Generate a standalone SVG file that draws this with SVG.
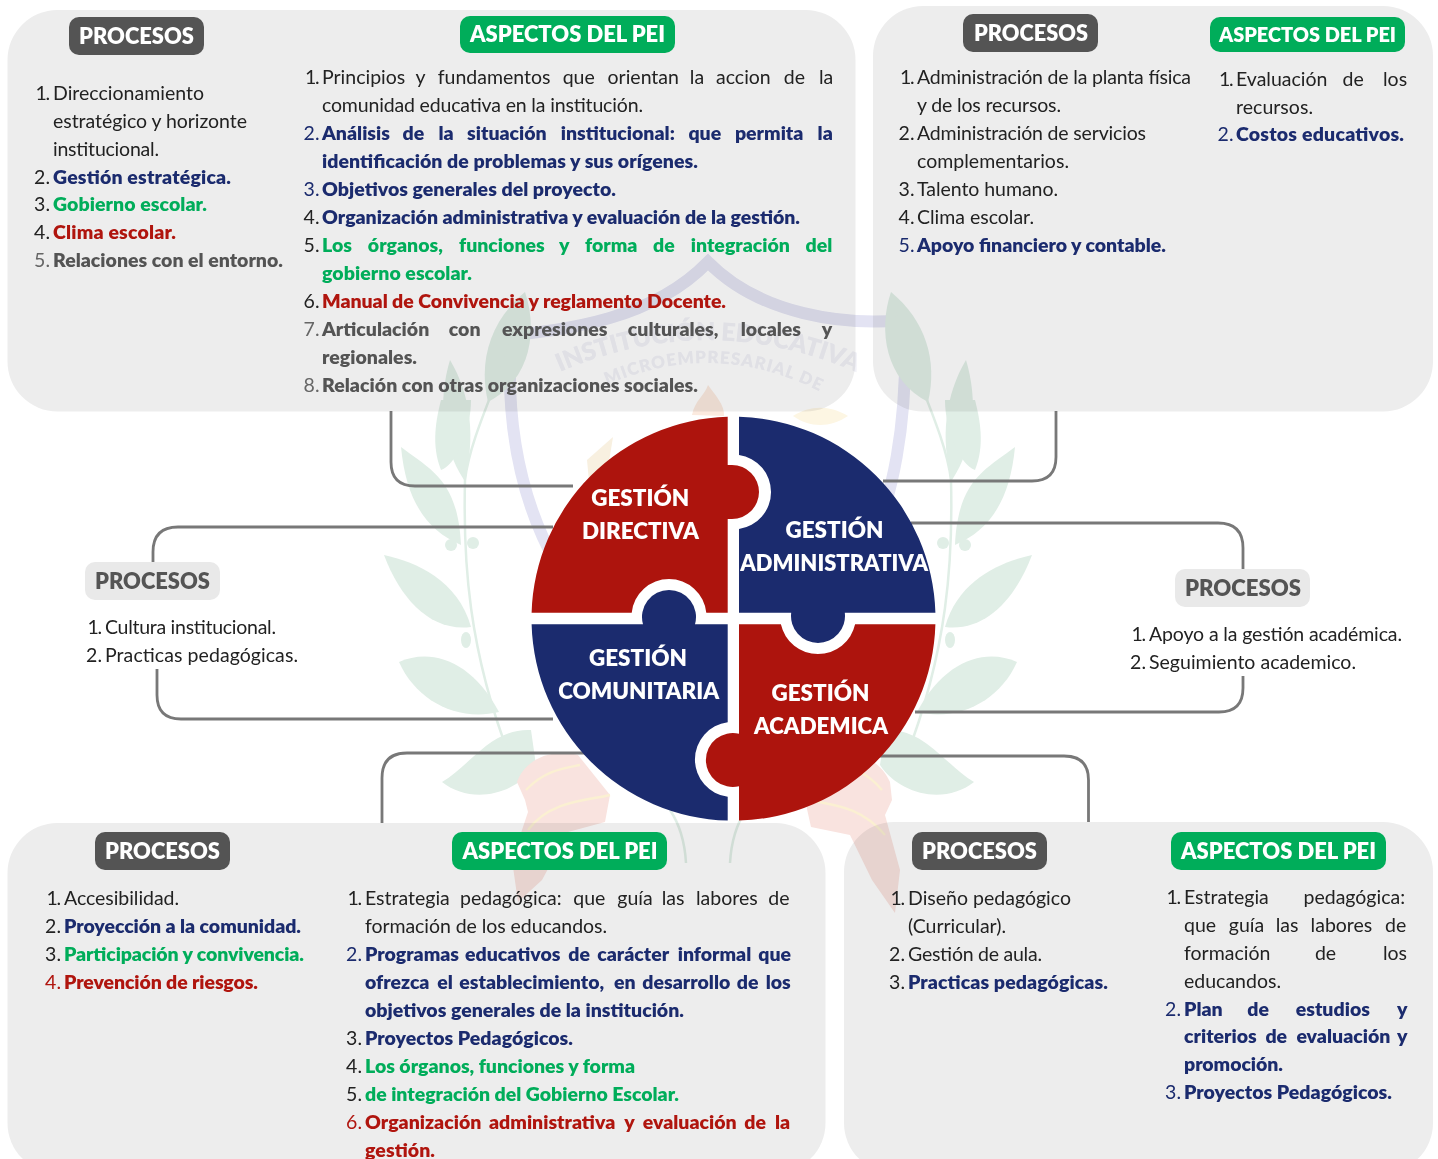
<svg xmlns="http://www.w3.org/2000/svg" width="1438" height="1159" viewBox="0 0 1438 1159">
<defs>
<style>
text{font-family:"Lato","Liberation Sans",sans-serif;font-size:19.5px;fill:#222}
.n{text-anchor:end;font-weight:400}
.nv{fill:#1b2b6e}.ng{fill:#666}.nr{fill:#b0150e}
.b{fill:#1b2b6e;font-weight:800}.g{fill:#00ad5a;font-weight:800}.d{fill:#b0150e;font-weight:800}.k{fill:#545454;font-weight:800}
.panel{fill:#ededed;mix-blend-mode:multiply}
.bp{fill:#545454}.ba{fill:#00ad5a}.bl{fill:#e9e9e9}
.lbl{font-size:22px;font-weight:800;fill:#fff;text-anchor:middle}
.lbk{fill:#545454}
.cap{font-size:23px;font-weight:800;fill:#fff;text-anchor:middle}
.red{fill:#ad140d}.navy{fill:#1b2b6e}
.conn{fill:none;stroke:#787878;stroke-width:2.8}
.leaf{fill:#e0eee6}
.rib{fill:#f9e3df}
.wm{font-weight:800;fill:#f1f1f7}
</style>
<g id="leaves-right">
<path class="leaf" d="M891,292C878,330 885,380 928,402C938,360 925,320 891,292Z"/>
<path class="leaf" d="M966,360C945,395 940,440 952,480C975,445 978,400 966,360Z"/>
<path class="leaf" d="M945,400C945,430 960,465 975,470C985,445 980,420 975,400Z"/>
<path class="leaf" d="M1015,447C985,470 958,480 955,545C990,530 1010,500 1015,447Z"/>
<path class="leaf" d="M1032,555C1000,562 958,580 945,627C985,632 1015,600 1032,555Z"/>
<path class="leaf" d="M1017,662C985,648 945,660 917,712C960,722 1000,700 1017,662Z"/>
<path class="leaf" d="M974,782C945,765 925,728 885,730L880,765C900,795 945,805 974,782Z"/>
<path d="M892,300C910,370 945,430 951,480C953,560 948,650 905,760" fill="none" stroke="#e0eee6" stroke-width="2.500"/>
<circle class="leaf" cx="943" cy="543" r="6"/><circle class="leaf" cx="965" cy="545" r="6"/><ellipse class="leaf" cx="950" cy="640" rx="5" ry="8"/>
<path d="M670,810C680,825 685,845 686,863" fill="none" stroke="#e0eee6" stroke-width="2.500"/>
</g>
</defs>
<rect width="1438" height="1159" fill="#fff"/>
<g id="crest">
<path d="M505,336C560,330 650,322 708,262C760,315 845,326 905,320C908,420 895,500 860,570M511,330C505,420 520,500 557,565" fill="none" stroke="#e3e3f3" stroke-width="12"/>
<use href="#leaves-right"/>
<use href="#leaves-right" transform="matrix(-1 0 0 1 1416 0)"/>
<path d="M692,415C695,400 705,395 708,385C715,395 725,405 724,416Z" fill="#fbeadf"/>
<path d="M793,416C810,405 830,405 848,416C830,428 810,428 793,416Z" fill="#fdf6e3"/>
<path d="M587,460L613,437L606,480L590,492Z" fill="#f8f0e0"/>
<path class="rib" d="M517,782C525,760 550,748 578,755L610,795L605,822L568,832L542,880L518,902L512,860L528,812L525,800Z"/>
<path class="rib" d="M890,782C880,760 860,752 838,756L805,800L811,827L850,835L872,880L895,913L900,870L885,815L892,800Z"/>
<path d="M526,790C545,770 565,768 580,765M528,830C550,800 590,800 610,795" fill="none" stroke="#fbf0d2" stroke-width="2.500"/>
<path d="M882,790C865,770 850,768 835,765M885,835C860,805 830,805 810,800" fill="none" stroke="#fbf0d2" stroke-width="2.500"/>
<path id="arc1" d="M560,372Q708,308 858,373" fill="none"/>
<path id="arc2" d="M607,385Q715,338 821,392" fill="none"/>
<text class="wm" style="font-size:25px"><textPath href="#arc1" textLength="305">INSTITUCIÓN EDUCATIVA</textPath></text>
<text class="wm" style="font-size:17px"><textPath href="#arc2" textLength="220">MICROEMPRESARIAL DE</textPath></text>
</g>
<g id="connectors">
<path class="conn" d="M391,411V462Q391,486 415,486H573"/>
<path class="conn" d="M553,527H178Q153,527 153,552V567"/>
<path class="conn" d="M157,669V695Q157,719 181,719H553"/>
<path class="conn" d="M1056,411V457Q1056,481 1032,481H883"/>
<path class="conn" d="M911,523H1218Q1243,523 1243,548V575"/>
<path class="conn" d="M1243,676V688Q1243,712 1219,712H915"/>
<path class="conn" d="M382,823V778Q382,753 407,753H600"/>
<path class="conn" d="M1088.5,822V780Q1088.5,756 1064,756H860"/>
</g>
<g id="panel-directiva">
<rect class="panel" x="7.500" y="10" width="848" height="401.500" rx="50"/>
<rect class="bp" x="69" y="17" width="135" height="38" rx="10"/><text class="lbl" x="136.500" y="43.500" textLength="115" lengthAdjust="spacingAndGlyphs">PROCESOS</text>
<rect class="ba" x="460" y="16" width="215" height="37" rx="10"/><text class="lbl" x="567.500" y="42" textLength="195" lengthAdjust="spacingAndGlyphs">ASPECTOS DEL PEI</text>
<text class="n" x="50" y="99.700"><tspan>1</tspan><tspan dx="-1.500">.</tspan></text><text x="53" y="99.700" textLength="151">Direccionamiento</text>
<text x="53" y="127.700" textLength="194">estratégico y horizonte</text>
<text x="53" y="155.700" textLength="106">institucional.</text>
<text class="n" x="50" y="183.500">2.</text><text class="b" x="53" y="183.500" textLength="178">Gestión estratégica.</text>
<text class="n" x="50" y="211">3.</text><text class="g" x="53" y="211" textLength="154">Gobierno escolar.</text>
<text class="n" x="50" y="239">4.</text><text class="d" x="53" y="239" textLength="123">Clima escolar.</text>
<text class="n ng" x="50" y="267">5.</text><text class="k" x="53" y="267" textLength="230">Relaciones con el entorno.</text>
<text class="n" x="319.500" y="83.900"><tspan>1</tspan><tspan dx="-1.500">.</tspan></text><text y="83.900"><tspan x="322">Principios</tspan><tspan x="415.400">y</tspan><tspan x="437.700">fundamentos</tspan><tspan x="562.700">que</tspan><tspan x="607.500">orientan</tspan><tspan x="689.800">la</tspan><tspan x="716">accion</tspan><tspan x="783.800">de</tspan><tspan x="819">la</tspan></text>
<text x="322" y="111.900" textLength="321">comunidad educativa en la institución.</text>
<text class="n nv" x="319.500" y="139.900">2.</text><text class="b" y="139.900"><tspan x="322">Análisis</tspan><tspan x="402.600">de</tspan><tspan x="438.400">la</tspan><tspan x="467">situación</tspan><tspan x="560.700">institucional:</tspan><tspan x="688.400">que</tspan><tspan x="734.900">permita</tspan><tspan x="817.600">la</tspan></text>
<text class="b" x="322" y="167.900" textLength="376">identificación de problemas y sus orígenes.</text>
<text class="n nv" x="319.500" y="195.900">3.</text><text class="b" x="322" y="195.900" textLength="294">Objetivos generales del proyecto.</text>
<text class="n" x="319.500" y="223.900">4.</text><text class="b" x="322" y="223.900" textLength="478">Organización administrativa y evaluación de la gestión.</text>
<text class="n" x="319.500" y="251.900">5.</text><text class="g" y="251.900"><tspan x="322">Los</tspan><tspan x="367.800">órganos,</tspan><tspan x="459">funciones</tspan><tspan x="559">y</tspan><tspan x="585">forma</tspan><tspan x="653">de</tspan><tspan x="690.800">integración</tspan><tspan x="805.500">del</tspan></text>
<text class="g" x="322" y="279.900" textLength="150">gobierno escolar.</text>
<text class="n" x="319.500" y="307.900">6.</text><text class="d" x="322" y="307.900" textLength="404">Manual de Convivencia y reglamento Docente.</text>
<text class="n ng" x="319.500" y="335.900">7.</text><text class="k" y="335.900"><tspan x="322">Articulación</tspan><tspan x="448.800">con</tspan><tspan x="502">expresiones</tspan><tspan x="627.800">culturales,</tspan><tspan x="740.800">locales</tspan><tspan x="821.700">y</tspan></text>
<text class="k" x="322" y="363.900" textLength="95">regionales.</text>
<text class="n ng" x="319.500" y="391.900">8.</text><text class="k" x="322" y="391.900" textLength="376">Relación con otras organizaciones sociales.</text>
</g>
<g id="panel-administrativa">
<rect class="panel" x="873" y="6" width="560" height="405.500" rx="50"/>
<rect class="bp" x="963" y="14" width="135" height="38" rx="10"/><text class="lbl" x="1031" y="40.500" textLength="114" lengthAdjust="spacingAndGlyphs">PROCESOS</text>
<rect class="ba" x="1210" y="17" width="195" height="35" rx="10"/><text class="lbl" x="1307.500" y="41.500" style="font-size:20px" textLength="177" lengthAdjust="spacingAndGlyphs">ASPECTOS DEL PEI</text>
<text class="n" x="914.500" y="83.900"><tspan>1</tspan><tspan dx="-1.500">.</tspan></text><text x="917" y="83.900" textLength="274">Administración de la planta física</text>
<text x="917" y="111.900" textLength="144">y de los recursos.</text>
<text class="n" x="914.500" y="139.900">2.</text><text x="917" y="139.900" textLength="229">Administración de servicios</text>
<text x="917" y="167.900" textLength="152">complementarios.</text>
<text class="n" x="914.500" y="195.900">3.</text><text x="917" y="195.900" textLength="141">Talento humano.</text>
<text class="n" x="914.500" y="223.900">4.</text><text x="917" y="223.900" textLength="117">Clima escolar.</text>
<text class="n nv" x="914.500" y="251.900">5.</text><text class="b" x="917" y="251.900" textLength="249">Apoyo financiero y contable.</text>
<text class="n" x="1233.500" y="85.500"><tspan>1</tspan><tspan dx="-1.500">.</tspan></text><text y="85.500"><tspan x="1236">Evaluación</tspan><tspan x="1342.600">de</tspan><tspan x="1383">los</tspan></text>
<text x="1236" y="113.500" textLength="77">recursos.</text>
<text class="n nv" x="1233.500" y="141">2.</text><text class="b" x="1236" y="141" textLength="168">Costos educativos.</text>
</g>
<g id="panel-comunitaria">
<rect class="panel" x="7.500" y="823" width="818" height="350" rx="50"/>
<rect class="bp" x="95" y="832" width="135" height="38" rx="10"/><text class="lbl" x="162.500" y="858.500" textLength="115" lengthAdjust="spacingAndGlyphs">PROCESOS</text>
<rect class="ba" x="452" y="832" width="215" height="38" rx="10"/><text class="lbl" x="560" y="858.500" textLength="195" lengthAdjust="spacingAndGlyphs">ASPECTOS DEL PEI</text>
<text class="n" x="61" y="904.500"><tspan>1</tspan><tspan dx="-1.500">.</tspan></text><text x="64" y="904.500" textLength="115">Accesibilidad.</text>
<text class="n" x="61" y="932.500">2.</text><text class="b" x="64" y="932.500" textLength="237">Proyección a la comunidad.</text>
<text class="n" x="61" y="960.500">3.</text><text class="g" x="64" y="960.500" textLength="240">Participación y convivencia.</text>
<text class="n nr" x="61" y="988.500">4.</text><text class="d" x="64" y="988.500" textLength="194">Prevención de riesgos.</text>
<text class="n" x="362" y="905"><tspan>1</tspan><tspan dx="-1.500">.</tspan></text><text y="905"><tspan x="365">Estrategia</tspan><tspan x="460">pedagógica:</tspan><tspan x="573.300">que</tspan><tspan x="617.300">guía</tspan><tspan x="661.700">las</tspan><tspan x="696">labores</tspan><tspan x="768.300">de</tspan></text>
<text x="365" y="933" textLength="242">formación de los educandos.</text>
<text class="n nv" x="362" y="961">2.</text><text class="b" y="961"><tspan x="365">Programas</tspan><tspan x="465">educativos</tspan><tspan x="568.300">de</tspan><tspan x="597.300">carácter</tspan><tspan x="677.700">informal</tspan><tspan x="758.300">que</tspan></text>
<text class="b" y="989"><tspan x="365">ofrezca</tspan><tspan x="437.300">el</tspan><tspan x="459.300">establecimiento,</tspan><tspan x="614">en</tspan><tspan x="642.300">desarrollo</tspan><tspan x="736.700">de</tspan><tspan x="765.700">los</tspan></text>
<text class="b" x="365" y="1017" textLength="319">objetivos generales de la institución.</text>
<text class="n" x="362" y="1045">3.</text><text class="b" x="365" y="1045" textLength="208">Proyectos Pedagógicos.</text>
<text class="n" x="362" y="1073">4.</text><text class="g" x="365" y="1073" textLength="270">Los órganos, funciones y forma</text>
<text class="n" x="362" y="1101">5.</text><text class="g" x="365" y="1101" textLength="314">de integración del Gobierno Escolar.</text>
<text class="n nr" x="362" y="1129">6.</text><text class="d" y="1129"><tspan x="365">Organización</tspan><tspan x="489">administrativa</tspan><tspan x="624.300">y</tspan><tspan x="642.700">evaluación</tspan><tspan x="744.300">de</tspan><tspan x="775">la</tspan></text>
<text class="d" x="365" y="1157" textLength="70">gestión.</text>
</g>
<g id="panel-academica">
<rect class="panel" x="844" y="822" width="589" height="351" rx="50"/>
<rect class="bp" x="912" y="832" width="135" height="38" rx="10"/><text class="lbl" x="979.500" y="858.500" textLength="115" lengthAdjust="spacingAndGlyphs">PROCESOS</text>
<rect class="ba" x="1171" y="832" width="215" height="38" rx="10"/><text class="lbl" x="1278.500" y="858.500" textLength="195" lengthAdjust="spacingAndGlyphs">ASPECTOS DEL PEI</text>
<text class="n" x="905" y="905"><tspan>1</tspan><tspan dx="-1.500">.</tspan></text><text x="908" y="905" textLength="163">Diseño pedagógico</text>
<text x="908" y="933" textLength="98">(Curricular).</text>
<text class="n" x="905" y="961">2.</text><text x="908" y="961" textLength="134">Gestión de aula.</text>
<text class="n" x="905" y="989">3.</text><text class="b" x="908" y="989" textLength="200">Practicas pedagógicas.</text>
<text class="n" x="1181" y="903.800"><tspan>1</tspan><tspan dx="-1.500">.</tspan></text><text y="903.800"><tspan x="1184">Estrategia</tspan><tspan x="1303.500">pedagógica:</tspan></text>
<text y="931.800"><tspan x="1184">que</tspan><tspan x="1228.800">guía</tspan><tspan x="1275.700">las</tspan><tspan x="1310.600">labores</tspan><tspan x="1385">de</tspan></text>
<text y="959.800"><tspan x="1184">formación</tspan><tspan x="1314.900">de</tspan><tspan x="1382.900">los</tspan></text>
<text x="1184" y="987.800" textLength="97">educandos.</text>
<text class="n nv" x="1181" y="1015.500">2.</text><text class="b" y="1015.500"><tspan x="1184">Plan</tspan><tspan x="1247.300">de</tspan><tspan x="1295.700">estudios</tspan><tspan x="1397">y</tspan></text>
<text class="b" y="1043"><tspan x="1184">criterios</tspan><tspan x="1265.400">de</tspan><tspan x="1296.400">evaluación</tspan><tspan x="1397">y</tspan></text>
<text class="b" x="1184" y="1071" textLength="99">promoción.</text>
<text class="n nv" x="1181" y="1099">3.</text><text class="b" x="1184" y="1099" textLength="208">Proyectos Pedagógicos.</text>
</g>
<g id="node-left">
<rect class="bl" x="85" y="562" width="135" height="38" rx="10"/><text class="lbl lbk" x="152.500" y="588.500" textLength="115" lengthAdjust="spacingAndGlyphs">PROCESOS</text>
<text class="n" x="102" y="633.500"><tspan>1</tspan><tspan dx="-1.500">.</tspan></text><text x="105" y="633.500" textLength="171">Cultura institucional.</text>
<text class="n" x="102" y="661.500">2.</text><text x="105" y="661.500" textLength="193">Practicas pedagógicas.</text>
</g>
<g id="node-right">
<rect class="bl" x="1175" y="569" width="135" height="38" rx="10"/><text class="lbl lbk" x="1243" y="595.500" textLength="116" lengthAdjust="spacingAndGlyphs">PROCESOS</text>
<text class="n" x="1146" y="640.700"><tspan>1</tspan><tspan dx="-1.500">.</tspan></text><text x="1149" y="640.700" textLength="253">Apoyo a la gestión académica.</text>
<text class="n" x="1146" y="668.700">2.</text><text x="1149" y="668.700" textLength="207">Seguimiento academico.</text>
</g>
<g id="gestion-directiva">
<path class="red" d="M727.700,416.800A202,202 0 0 0 531.600,612.700H631.700A37.500,37.500 0 0 1 706.300,612.700H727.700V519H732A27,27 0 0 0 732,465H727.700Z"/>
<text class="cap" x="640.200" y="506" textLength="98" lengthAdjust="spacingAndGlyphs">GESTIÓN</text><text class="cap" x="640.500" y="538.500" textLength="117" lengthAdjust="spacingAndGlyphs">DIRECTIVA</text>
</g>
<g id="gestion-administrativa">
<path class="navy" d="M739,416.800A202,202 0 0 1 935.400,612.700H844.800A27,27 0 1 1 791.200,612.700H739V529.100A37.500,37.500 0 0 0 739,454.900Z"/>
<text class="cap" x="834.500" y="538" textLength="98" lengthAdjust="spacingAndGlyphs">GESTIÓN</text><text class="cap" x="834.200" y="571" textLength="188" lengthAdjust="spacingAndGlyphs">ADMINISTRATIVA</text>
</g>
<g id="gestion-comunitaria">
<path class="navy" d="M531.600,624.300H643A27,27 0 1 1 695,624.300H727.700V722.300A37.500,37.500 0 0 0 727.700,796.700V820.600A202,202 0 0 1 531.600,624.300Z"/>
<text class="cap" x="638" y="666" textLength="98" lengthAdjust="spacingAndGlyphs">GESTIÓN</text><text class="cap" x="638.700" y="699" textLength="161" lengthAdjust="spacingAndGlyphs">COMUNITARIA</text>
</g>
<g id="gestion-academica">
<path class="red" d="M739,624.300H780.900A38,38 0 0 0 855.100,624.300H935.400A202,202 0 0 1 739,820.600V786.300A27,27 0 1 1 739,733.700Z"/>
<text class="cap" x="820.500" y="701" textLength="98" lengthAdjust="spacingAndGlyphs">GESTIÓN</text><text class="cap" x="821" y="733.500" textLength="134" lengthAdjust="spacingAndGlyphs">ACADEMICA</text>
</g>
</svg>
